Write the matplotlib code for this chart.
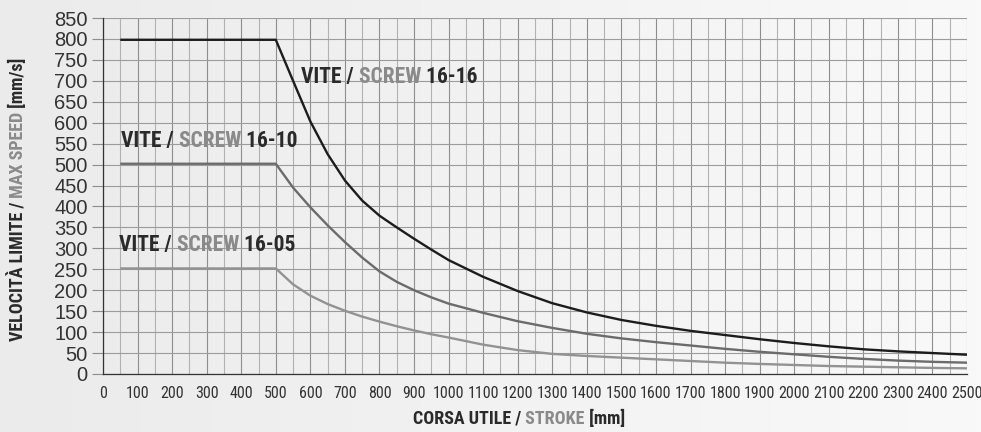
import numpy as np
import matplotlib
matplotlib.use('Agg')
import matplotlib.pyplot as plt
from matplotlib.colors import LinearSegmentedColormap
from matplotlib.ticker import MultipleLocator

NARROW = ['Liberation Sans Narrow', 'Roboto Condensed', 'DejaVu Sans']
plt.rcParams['font.family'] = ['Liberation Sans', 'DejaVu Sans']

# ── data ─────────────────────────────────────────────────────────────────────
stroke = [50, 500, 550, 600, 650, 700, 750, 800, 850, 900, 950, 1000, 1100, 1200,
          1300, 1400, 1500, 1600, 1700, 1800, 1900, 2000, 2100, 2200, 2300, 2400, 2500]
speed_16_16 = [798, 798, 700, 603, 525, 462, 414, 378, 350, 323, 297, 272, 232, 198,
               169, 147, 129, 115, 103, 93, 83, 74, 66, 59, 54, 50, 46]
speed_16_10 = [502, 502, 445, 398, 355, 315, 278, 245, 220, 200, 183, 168, 146, 126,
               110, 96, 85, 76, 68, 60, 53, 47, 41, 36, 32, 29, 27]
speed_16_05 = [252, 252, 214, 187, 167, 151, 137, 125, 114, 104, 95, 87, 70, 57,
               48, 43, 39, 35, 31, 27, 24, 21.5, 19, 17.5, 16, 14.5, 13.5]

series = [
    ('16-16', speed_16_16, '#1c1c1c', (573, 695)),
    ('16-10', speed_16_10, '#6b6b6b', (52, 542)),
    ('16-05', speed_16_05, '#929292', (46, 294)),
]

DARK = '#2a2a2a'
GREY = '#8a8a8a'

fig = plt.figure(figsize=(9.81, 4.32), dpi=100)

# soft background gradient
bg = fig.add_axes([0, 0, 1, 1], zorder=-10)
bg.imshow(np.linspace(0, 1, 256)[None, :], aspect='auto', extent=[0, 1, 0, 1],
          cmap=LinearSegmentedColormap.from_list('bg', ['#ebebeb', '#f9f9f9']))
bg.axis('off')

ax = fig.add_axes([0.105, 0.1343, 0.8807, 0.824])
ax.set_facecolor('none')

for name, vals, color, _ in series:
    ax.plot(stroke, vals, color=color, linewidth=1.7, solid_capstyle='butt',
            solid_joinstyle='round', zorder=3)

ax.set_xlim(0, 2500)
ax.set_ylim(0, 850)
ax.xaxis.set_major_locator(MultipleLocator(100))
ax.xaxis.set_minor_locator(MultipleLocator(50))
ax.yaxis.set_major_locator(MultipleLocator(50))

ax.grid(which='major', axis='x', color='#8e8e8e', linewidth=0.8, zorder=1)
ax.grid(which='minor', axis='x', color='#b2b2b2', linewidth=0.8, zorder=1)
ax.grid(which='major', axis='y', color='#9c9c9c', linewidth=0.8, zorder=1)
ax.set_axisbelow(True)

for s in ['top', 'right']:
    ax.spines[s].set_visible(False)
for s in ['left', 'bottom']:
    ax.spines[s].set_color('#333333')
    ax.spines[s].set_linewidth(0.9)

ax.tick_params(axis='y', length=8, width=0.8, color='#8e8e8e', pad=3,
               labelsize=14.5, labelcolor='#333333')
ax.tick_params(axis='x', which='both', length=0, pad=9,
               labelsize=11.5, labelcolor='#333333')
for lbl in ax.get_xticklabels():
    lbl.set_family(NARROW)
    lbl.set_stretch('condensed')
for lbl in ax.get_yticklabels():
    lbl.set_family(['Liberation Sans', 'DejaVu Sans'])


def multicolor(first, pieces, rotation=0):
    # chain each piece onto the end of the previous one
    prev = first
    for s, c in pieces:
        if rotation:
            prev = ax.annotate(s, xy=(0, 1), xycoords=prev, ha='left', va='bottom',
                               rotation=90, color=c, fontsize=first.get_fontsize(),
                               family=NARROW, stretch='condensed', weight='bold',
                               annotation_clip=False)
        else:
            prev = ax.annotate(s, xy=(1, 0), xycoords=prev, ha='left', va='bottom',
                               color=c, fontsize=first.get_fontsize(),
                               family=NARROW, stretch='condensed', weight='bold',
                               annotation_clip=False)
    return prev


# curve labels
for name, vals, color, (lx, ly) in series:
    t = ax.text(lx, ly, 'VITE /', color=DARK, fontsize=15.5, family=NARROW,
                stretch='condensed', weight='bold', ha='left', va='baseline', zorder=4)
    multicolor(t, [(' SCREW', GREY), (' ' + name, DARK)])

# x axis title
tx = fig.text(0.421, 0.01, 'CORSA UTILE /', color=DARK, fontsize=13,
              family=NARROW, stretch='condensed', weight='bold', ha='left', va='bottom')
multicolor(tx, [(' STROKE', GREY), (' [mm]', DARK)])

# y axis title
ty = fig.text(0.009, 0.21, 'VELOCITÀ LIMITE /', color=DARK, fontsize=13,
              family=NARROW, stretch='condensed', weight='bold', rotation=90,
              ha='left', va='bottom')
multicolor(ty, [(' MAX SPEED', GREY), (' [mm/s]', DARK)], rotation=90)

fig.savefig('out.png', dpi=100, facecolor=fig.get_facecolor())
